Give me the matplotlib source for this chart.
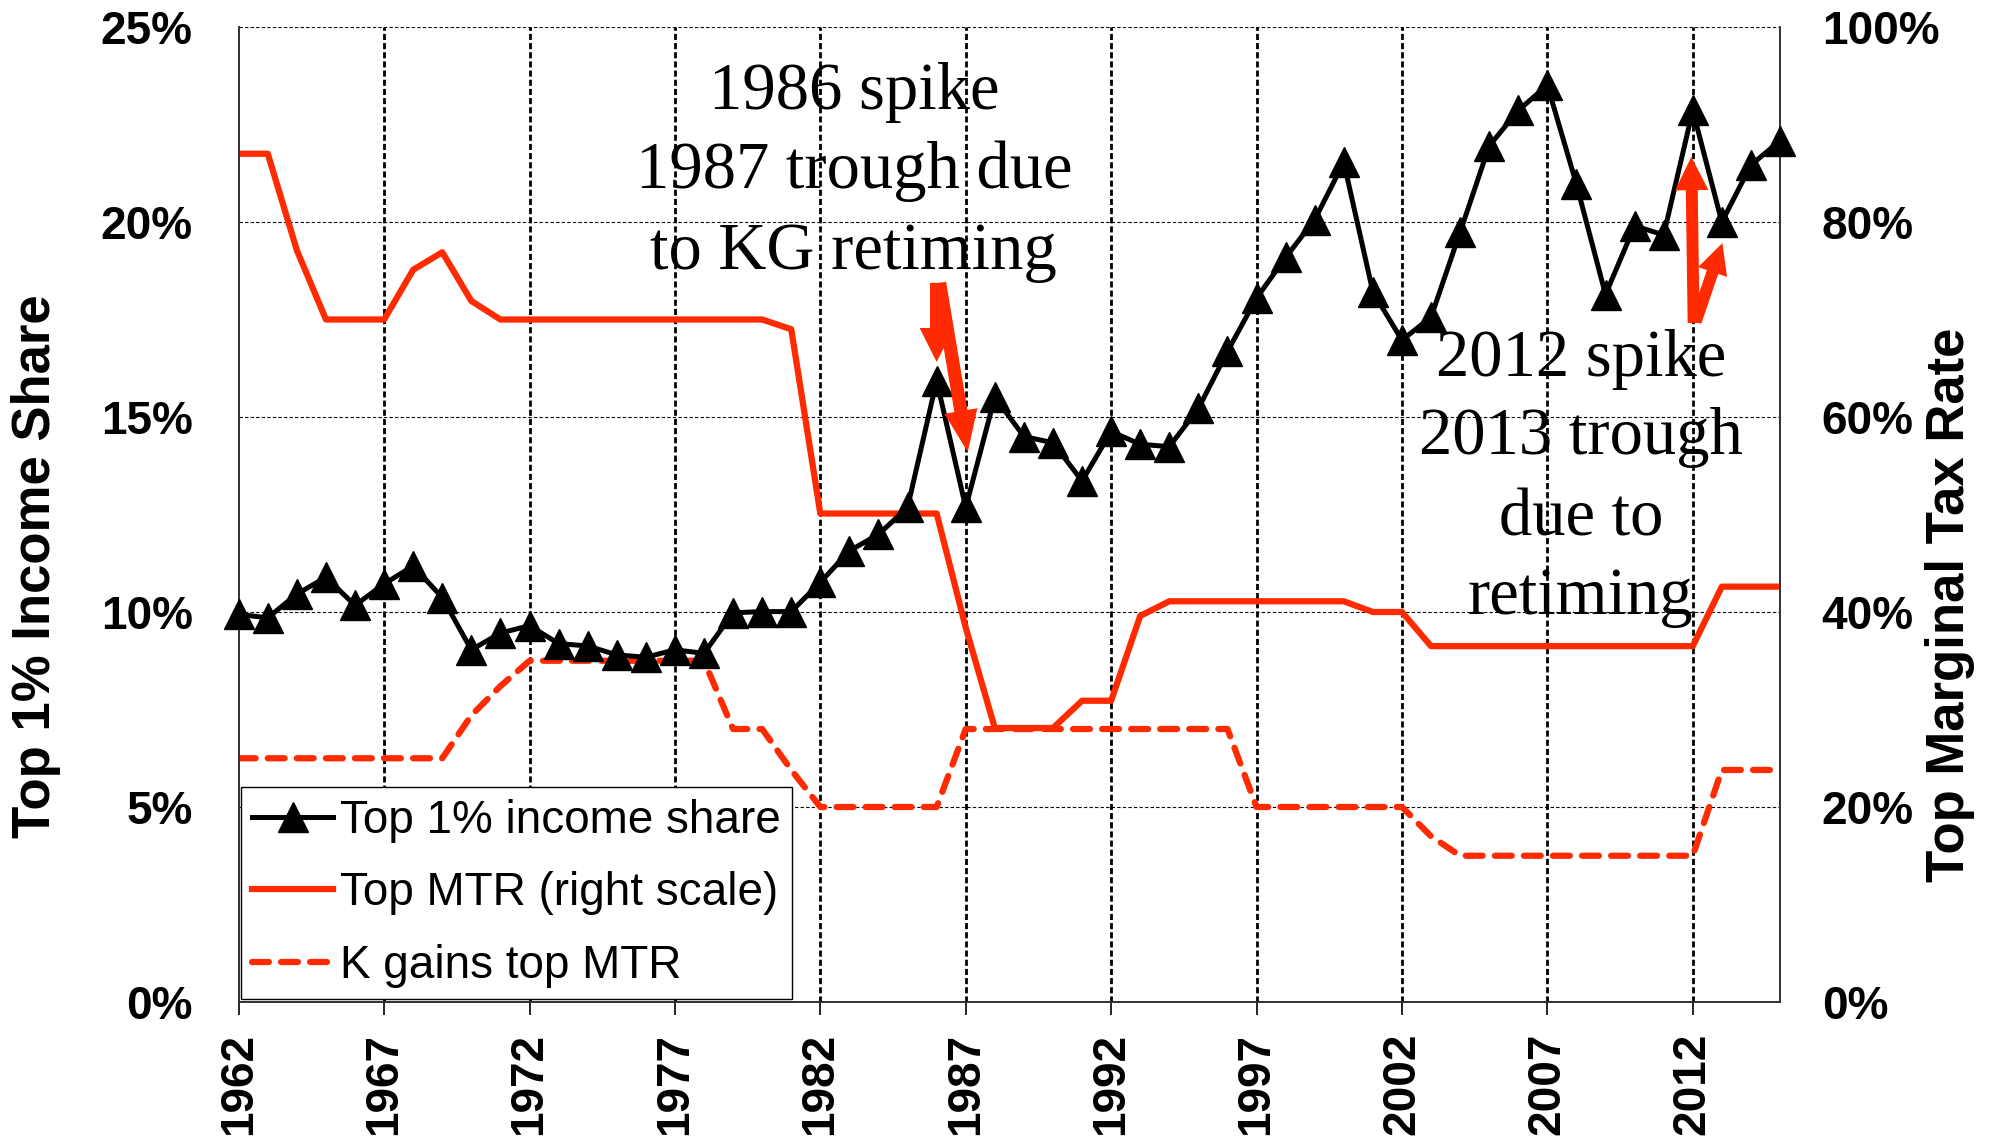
import matplotlib
matplotlib.use('Agg')
import matplotlib.pyplot as plt
from matplotlib.ticker import FuncFormatter

# ---- data ----
years = list(range(1962, 2016))

top1_share = [9.94, 9.85, 10.46, 10.89, 10.17, 10.72, 11.18, 10.37, 9.03, 9.46,
              9.65, 9.19, 9.13, 8.90, 8.84, 9.03, 8.94, 9.98, 10.01, 10.01,
              10.76, 11.57, 11.99, 12.68, 15.93, 12.68, 15.51, 14.50, 14.34, 13.36,
              14.63, 14.30, 14.24, 15.22, 16.68, 18.05, 19.09, 20.06, 21.53, 18.21,
              16.97, 17.56, 19.74, 21.95, 22.86, 23.51, 20.97, 18.14, 19.90, 19.67,
              22.86, 20.00, 21.46, 22.08]

top_mtr = [0.870, 0.870, 0.771, 0.700, 0.700, 0.700, 0.751, 0.769, 0.719, 0.700,
           0.700, 0.700, 0.700, 0.700, 0.700, 0.700, 0.700, 0.700, 0.700, 0.690,
           0.501, 0.501, 0.501, 0.501, 0.501, 0.384, 0.281, 0.281, 0.281, 0.309,
           0.309, 0.396, 0.411, 0.411, 0.411, 0.411, 0.411, 0.411, 0.411, 0.400,
           0.400, 0.365, 0.365, 0.365, 0.365, 0.365, 0.365, 0.365, 0.365, 0.365,
           0.365, 0.426, 0.426, 0.426]

kg_mtr = [0.250, 0.250, 0.250, 0.250, 0.250, 0.250, 0.250, 0.250, 0.294, 0.324,
          0.350, 0.350, 0.350, 0.350, 0.350, 0.350, 0.350, 0.280, 0.280, 0.238,
          0.200, 0.200, 0.200, 0.200, 0.200, 0.280, 0.280, 0.280, 0.280, 0.280,
          0.280, 0.280, 0.280, 0.280, 0.280, 0.200, 0.200, 0.200, 0.200, 0.200,
          0.200, 0.170, 0.150, 0.150, 0.150, 0.150, 0.150, 0.150, 0.150, 0.150,
          0.150, 0.238, 0.238, 0.238]

x_ticks = list(range(1962, 2013, 5))
left_ticks = [0, 5, 10, 15, 20, 25]
right_ticks = [0, 0.2, 0.4, 0.6, 0.8, 1.0]

labels = ['Top 1% income share', 'Top MTR (right scale)', 'K gains top MTR']

RED = '#ff2a00'
SERIF = ['Liberation Serif', 'DejaVu Serif']

plt.rcParams['font.family'] = ['Liberation Sans', 'DejaVu Sans']

fig = plt.figure(figsize=(19.9, 11.37), dpi=100)
ax = fig.add_axes([0.11995, 0.11873, 0.77452, 0.85752])
ax2 = ax.twinx()
ax.set_zorder(ax2.get_zorder() + 1)
ax.patch.set_visible(False)

# grid lives on the back axis so the lines sit above it
ax2.set_ylim(0, 1)
ax2.set_yticks(right_ticks)
ax2.yaxis.grid(True, color='black', lw=0.8, ls=(0, (3, 2)))
for yr in x_ticks[1:]:
    ax2.axvline(yr, color='black', lw=2.0, ls=(0, (2.2, 1.1)), zorder=1)

l2, = ax2.plot(years, top_mtr, color=RED, lw=4.5, solid_joinstyle='round', zorder=3)
l3, = ax2.plot(years, kg_mtr, color=RED, lw=4.5, dashes=[2.7, 1.95],
               dash_capstyle='round', zorder=3)
l1, = ax.plot(years, top1_share, color='black', lw=3.6, marker='^', ms=21,
              mfc='black', mec='black', zorder=4, clip_on=False)

ax.set_xlim(1962, 2015)
ax.set_ylim(0, 25)
ax.set_xticks(x_ticks)
ax.set_yticks(left_ticks)
ax.yaxis.set_major_formatter(FuncFormatter(lambda v, p: '%d%%' % v))
ax2.yaxis.set_major_formatter(FuncFormatter(lambda v, p: '%d%%' % round(v * 100)))

ax.tick_params(axis='x', length=9, width=1.2, pad=13, labelsize=33, labelrotation=90)
ax.tick_params(axis='y', length=0, pad=33, labelsize=33)
ax2.tick_params(axis='y', length=0, pad=30, labelsize=33)
for t in ax.get_xticklabels() + ax.get_yticklabels() + ax2.get_yticklabels():
    t.set_fontweight('bold')

for a in (ax, ax2):
    a.spines['top'].set_visible(False)
    for s in ('left', 'right', 'bottom'):
        a.spines[s].set_color('#303030')
        a.spines[s].set_linewidth(1.2)

fig.text(0.018, 0.502, 'Top 1% Income Share', rotation=90, ha='center', va='center',
         fontsize=38, fontweight='bold')
fig.text(0.98, 0.468, 'Top Marginal Tax Rate', rotation=90, ha='center', va='center',
         fontsize=38, fontweight='bold')

leg = ax.legend([l1, l2, l3], labels, loc='lower left', bbox_to_anchor=(0.0015, 0.003),
                borderaxespad=0, fontsize=33, fancybox=False, framealpha=1,
                edgecolor='black', handlelength=1.75, handletextpad=0.15,
                labelspacing=0.62, borderpad=0.25, numpoints=1)
leg.get_frame().set_linewidth(1.0)
leg.set_zorder(10)

# annotations
note1 = ['1986 spike', '1987 trough due', 'to KG retiming']
for txt, yy in zip(note1, [22.90, 20.87, 18.79]):
    ax.text(1983.15, yy, txt, ha='center', va='baseline', fontsize=48,
            family=SERIF, zorder=6)

note2 = ['2012 spike', '2013 trough', 'due to', 'retiming']
for txt, yy in zip(note2, [16.05, 14.05, 11.96, 9.95]):
    ax.text(2008.15, yy, txt, ha='center', va='baseline', fontsize=48,
            family=SERIF, zorder=6)

arrows = [
    ((1986.0, 18.44), (1986.0, 16.41), 2.45, 2.45, 0.95),
    ((1986.1, 18.44), (1987.07, 14.1), 3.0, 2.4, 0.95),
    ((2012.03, 17.41), (2011.95, 21.67), 2.4, 2.4, 0.86),
    ((2012.1, 17.44), (2013.02, 19.46), 2.2, 2.2, 0.86),
]
for start, end, hl, hw, tw in arrows:
    ax.annotate('', xy=end, xytext=start, zorder=7,
                arrowprops=dict(arrowstyle='simple,head_length=%g,head_width=%g,tail_width=%g' % (hl, hw, tw),
                                color=RED, mutation_scale=10, shrinkA=0, shrinkB=0, lw=0))

fig.savefig('out.png', dpi=100)
